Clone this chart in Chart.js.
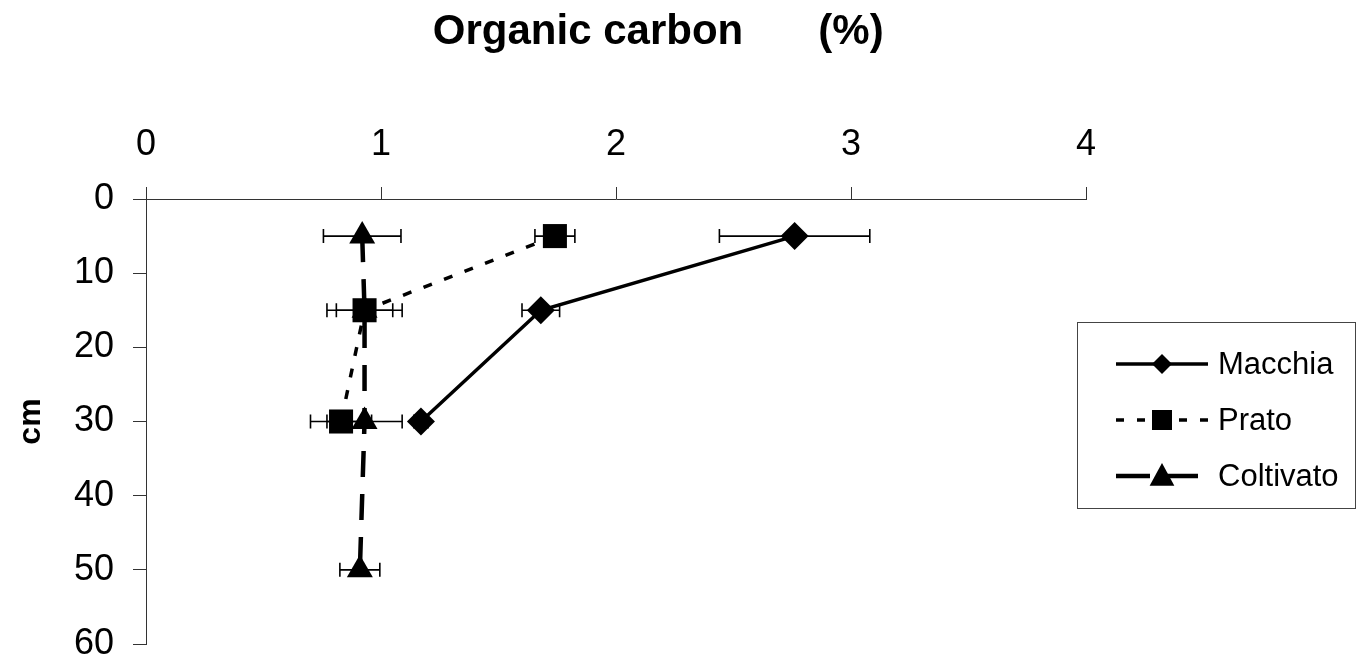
<!DOCTYPE html>
<html>
<head>
<meta charset="utf-8">
<title>Organic carbon (%)</title>
<script src="https://cdn.jsdelivr.net/npm/chart.js@4.4.1/dist/chart.umd.min.js"></script>
<style>
  html, body { margin: 0; padding: 0; background: #fff; }
  #wrap { width: 1357px; height: 661px; position: relative; }
</style>
</head>
<body>
<div id="wrap"><canvas id="chart"></canvas></div>
<script>
(function(){
  'use strict';

  // depth (cm) vs organic carbon (%)
  const macchiaDepth = [5, 15, 30];
  const macchiaC     = [2.76, 1.68, 1.17];
  const macchiaErr   = [0.32, 0.08, 0.03];

  const pratoDepth = [5, 15, 30];
  const pratoC     = [1.74, 0.93, 0.83];
  const pratoErr   = [0.085, 0.16, 0.13];

  const coltivatoDepth = [5, 15, 30, 50];
  const coltivatoC     = [0.92, 0.93, 0.93, 0.91];
  const coltivatoErr   = [0.165, 0.12, 0.16, 0.085];

  const xTicks = [0, 1, 2, 3, 4];
  const yTicks = [0, 10, 20, 30, 40, 50, 60];
  const seriesNames = ['Macchia', 'Prato', 'Coltivato'];

  const FONT = '"Liberation Sans", Arial, sans-serif';
  const AXIS = '#333';

  function points(xs, ys){
    return xs.map((v, i) => ({ x: v, y: ys[i] }));
  }

  // my own marker routine, used for the legend samples
  function marker(ctx, style, x, y, r){
    ctx.beginPath();
    if (style === 'rectRot') {
      ctx.moveTo(x, y - r); ctx.lineTo(x + r, y); ctx.lineTo(x, y + r); ctx.lineTo(x - r, y);
    } else if (style === 'rect') {
      ctx.rect(x - r, y - r, 2 * r, 2 * r);
    } else {
      ctx.moveTo(x, y - r); ctx.lineTo(x + r * 0.95, y + r * 0.75); ctx.lineTo(x - r * 0.95, y + r * 0.75);
    }
    ctx.closePath();
    ctx.fill();
  }

  // horizontal error bars with caps
  const errorBars = {
    id: 'errorBars',
    beforeDatasetsDraw(chart){
      const { ctx, scales: { x, y } } = chart;
      ctx.save();
      ctx.strokeStyle = '#000';
      ctx.lineWidth = 1.6;
      chart.data.datasets.forEach(ds => {
        ds.data.forEach((p, i) => {
          const e = ds.errX[i];
          if (!e) return;
          const x0 = x.getPixelForValue(p.x - e);
          const x1 = x.getPixelForValue(p.x + e);
          const py = y.getPixelForValue(p.y);
          ctx.beginPath();
          ctx.moveTo(x0, py); ctx.lineTo(x1, py);
          ctx.moveTo(x0, py - 7); ctx.lineTo(x0, py + 7);
          ctx.moveTo(x1, py - 7); ctx.lineTo(x1, py + 7);
          ctx.stroke();
        });
      });
      ctx.restore();
    }
  };

  // title in two pieces, like the original
  const titleText = {
    id: 'titleText',
    afterDraw(chart){
      const ctx = chart.ctx;
      ctx.save();
      ctx.fillStyle = '#000';
      ctx.font = 'bold 42px ' + FONT;
      ctx.textAlign = 'center';
      ctx.textBaseline = 'alphabetic';
      ctx.fillText('Organic carbon', 588, 44);
      ctx.fillText('(%)', 851, 44);
      ctx.restore();
    }
  };

  // boxed legend on the right
  const boxLegend = {
    id: 'boxLegend',
    afterDraw(chart){
      const ctx = chart.ctx;
      const rows = [
        { y: 364, dash: [],       lw: 3.5, style: 'rectRot',  r: 10 },
        { y: 420, dash: [8, 13],  lw: 3.5, style: 'rect',     r: 10 },
        { y: 476, dash: [34, 14], lw: 4.5, style: 'triangle', r: 13 }
      ];
      ctx.save();
      ctx.strokeStyle = '#444';
      ctx.lineWidth = 1;
      ctx.strokeRect(1077.5, 322.5, 278, 186);

      ctx.fillStyle = '#000';
      ctx.strokeStyle = '#000';
      ctx.font = '31px ' + FONT;
      ctx.textAlign = 'left';
      ctx.textBaseline = 'middle';
      rows.forEach((row, i) => {
        ctx.lineWidth = row.lw;
        ctx.setLineDash(row.dash);
        ctx.beginPath();
        ctx.moveTo(1116, row.y);
        ctx.lineTo(i === 2 ? 1199 : 1208, row.y);
        ctx.stroke();
        ctx.setLineDash([]);
        marker(ctx, row.style, 1162, row.y, row.r);
        ctx.fillText(seriesNames[i], 1218, row.y + 1);
      });
      ctx.restore();
    }
  };

  const datasets = [
    {
      label: seriesNames[0],
      data: points(macchiaC, macchiaDepth),
      errX: macchiaErr,
      borderColor: '#000', backgroundColor: '#000',
      borderWidth: 3.5,
      pointStyle: 'rectRot', pointRadius: 14, pointBorderWidth: 0
    },
    {
      label: seriesNames[1],
      data: points(pratoC, pratoDepth),
      errX: pratoErr,
      borderColor: '#000', backgroundColor: '#000',
      borderWidth: 3.5, borderDash: [9, 13],
      pointStyle: 'rect', pointRadius: 17, pointBorderWidth: 0
    },
    {
      label: seriesNames[2],
      data: points(coltivatoC, coltivatoDepth),
      errX: coltivatoErr,
      borderColor: '#000', backgroundColor: '#000',
      borderWidth: 4.5, borderDash: [26, 17],
      pointStyle: 'triangle', pointRadius: 15, pointBorderWidth: 0
    }
  ];

  new Chart(document.getElementById('chart'), {
    type: 'scatter',
    data: { datasets },
    options: {
      responsive: true,
      maintainAspectRatio: false,
      animation: false,
      showLine: true,
      clip: false,
      layout: { padding: { top: 0, right: 271, bottom: 13, left: 0 } },
      plugins: {
        legend: { display: false },
        title: { display: false },
        tooltip: { enabled: false }
      },
      scales: {
        x: {
          type: 'linear',
          position: 'top',
          min: 0, max: 4,
          afterBuildTicks: s => { s.ticks = xTicks.map(v => ({ value: v })); },
          afterFit: s => { s.height = 199; s.paddingLeft = 0; s.paddingRight = 0; },
          ticks: { color: '#000', font: { family: FONT, size: 36 }, padding: 20 },
          grid: { drawOnChartArea: false, drawTicks: true, tickLength: 12, color: AXIS, lineWidth: 1 },
          border: { display: true, color: AXIS, width: 1 }
        },
        y: {
          type: 'linear',
          reverse: true,
          min: 0, max: 60,
          afterBuildTicks: s => { s.ticks = yTicks.map(v => ({ value: v })); },
          afterFit: s => { s.width = 146; s.paddingTop = 0; s.paddingBottom = 0; },
          ticks: { color: '#000', font: { family: FONT, size: 36 }, padding: 19 },
          grid: { drawOnChartArea: false, drawTicks: true, tickLength: 13, color: AXIS, lineWidth: 1 },
          border: { display: true, color: AXIS, width: 1 },
          title: {
            display: true,
            text: 'cm',
            color: '#000',
            font: { family: FONT, size: 32, weight: 'bold' },
            padding: { top: 12, bottom: 0 }
          }
        }
      }
    },
    plugins: [errorBars, titleText, boxLegend]
  });
})();
</script>
</body>
</html>
